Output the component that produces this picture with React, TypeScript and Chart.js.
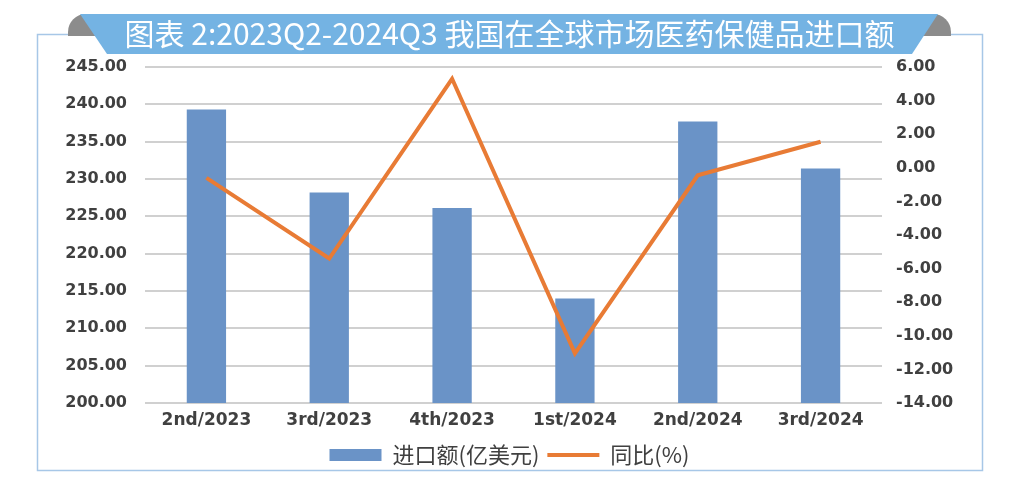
import React, { useEffect, useRef } from "react";
import { Chart, registerables } from "chart.js";

Chart.register(...registerables);

const titleText = "图表 2:2023Q2-2024Q3 我国在全球市场医药保健品进口额";
const categories = ["2nd/2023", "3rd/2023", "4th/2023", "1st/2024", "2nd/2024", "3rd/2024"];
const importValues = [239.3, 228.2, 226.1, 214.0, 237.7, 231.4];
const yoyValues = [-0.6, -5.4, 5.3, -11.05, -0.45, 1.55];
const seriesNames = ["进口额(亿美元)", "同比(%)"];
const leftTicks = { min: 200, max: 245, step: 5 };
const rightTicks = { min: -14, max: 6, step: 2 };

const BAR_COLOR = "#6A93C7";
const LINE_COLOR = "#E87B35";
const TICK_COLOR = "#404040";

const framePlugin = {
  id: "framePlugin",
  beforeDraw(chart: any) {
    const ctx = chart.ctx as CanvasRenderingContext2D;
    ctx.save();
    ctx.fillStyle = "#ffffff";
    ctx.fillRect(0, 0, chart.width, chart.height);
    // frame
    ctx.strokeStyle = "#A7C7E7";
    ctx.lineWidth = 1.5;
    ctx.strokeRect(37.5, 34.5, 945, 436);
    // grey folds
    ctx.fillStyle = "#8C8C8C";
    ctx.beginPath();
    ctx.moveTo(68, 36);
    ctx.lineTo(68, 32);
    ctx.arcTo(68, 14, 86, 14, 18);
    ctx.lineTo(110, 14);
    ctx.lineTo(110, 36);
    ctx.closePath();
    ctx.fill();
    ctx.beginPath();
    ctx.moveTo(951, 36);
    ctx.lineTo(951, 32);
    ctx.arcTo(951, 14, 933, 14, 18);
    ctx.lineTo(910, 14);
    ctx.lineTo(910, 36);
    ctx.closePath();
    ctx.fill();
    // blue ribbon
    ctx.fillStyle = "#74B3E3";
    ctx.beginPath();
    ctx.moveTo(80, 14);
    ctx.lineTo(938, 14);
    ctx.lineTo(912, 54);
    ctx.lineTo(107, 54);
    ctx.closePath();
    ctx.fill();
    ctx.restore();
  },
};

export default function App() {
  const canvasRef = useRef<HTMLCanvasElement | null>(null);

  useEffect(() => {
    if (!canvasRef.current) return;
    const yTickFont = { family: "'DejaVu Sans', Verdana, sans-serif", size: 16, weight: "bold" as const };
    const xTickFont = { family: "'DejaVu Sans', Verdana, sans-serif", size: 17, weight: "bold" as const };
    const chart = new Chart(canvasRef.current, {
      type: "bar",
      data: {
        labels: categories,
        datasets: [
          {
            type: "bar",
            label: seriesNames[0],
            data: importValues,
            backgroundColor: BAR_COLOR,
            borderWidth: 0,
            yAxisID: "y",
            categoryPercentage: 0.8,
            barPercentage: 0.4,
            order: 2,
            pointStyle: "rect",
          } as any,
          {
            type: "line",
            label: seriesNames[1],
            data: yoyValues,
            borderColor: LINE_COLOR,
            backgroundColor: LINE_COLOR,
            borderWidth: 4,
            tension: 0,
            pointRadius: 0,
            pointHoverRadius: 0,
            yAxisID: "y1",
            order: 1,
            pointStyle: "line",
          } as any,
        ],
      },
      options: {
        responsive: false,
        animation: false,
        devicePixelRatio: 1,
        layout: { padding: { left: 0, right: 0, top: 0, bottom: 15 } },
        plugins: {
          tooltip: { enabled: false },
          title: {
            display: true,
            text: titleText,
            color: "#ffffff",
            font: { family: "'Noto Sans CJK SC', sans-serif", size: 30, weight: "normal" },
            padding: { top: 16, bottom: 15 },
          },
          legend: {
            position: "bottom",
            labels: {
              usePointStyle: true,
              pointStyleWidth: 52,
              boxHeight: 12,
              padding: 8,
              color: TICK_COLOR,
              font: { family: "'Noto Sans CJK SC', sans-serif", size: 22, weight: "normal" },
              sort: (a: any, b: any) => a.datasetIndex - b.datasetIndex,
            },
          },
        },
        scales: {
          x: {
            grid: { display: false, drawTicks: false },
            border: { display: false },
            ticks: { color: TICK_COLOR, font: xTickFont, padding: 7 },
            afterFit: (scale: any) => {
              scale.height = 33;
            },
          },
          y: {
            position: "left",
            min: leftTicks.min,
            max: leftTicks.max,
            grid: { color: "#D0D0D0", lineWidth: 2, drawTicks: false },
            border: { display: false },
            ticks: {
              stepSize: leftTicks.step,
              color: TICK_COLOR,
              font: yTickFont,
              padding: 18,
              callback: (v: any) => Number(v).toFixed(2),
            },
            afterFit: (scale: any) => {
              scale.width = 145;
            },
          },
          y1: {
            position: "right",
            min: rightTicks.min,
            max: rightTicks.max,
            grid: { display: false, drawTicks: false },
            border: { display: false },
            ticks: {
              stepSize: rightTicks.step,
              color: TICK_COLOR,
              font: yTickFont,
              padding: 14,
              callback: (v: any) => Number(v).toFixed(2),
            },
            afterFit: (scale: any) => {
              scale.width = 137;
            },
          },
        },
      },
      plugins: [framePlugin],
    });
    return () => chart.destroy();
  }, []);

  return (
    <div style={{ position: "absolute", left: 0, top: 0, width: 1019, height: 491 }}>
      <canvas ref={canvasRef} width={1019} height={491} style={{ width: 1019, height: 491 }} />
    </div>
  );
}
